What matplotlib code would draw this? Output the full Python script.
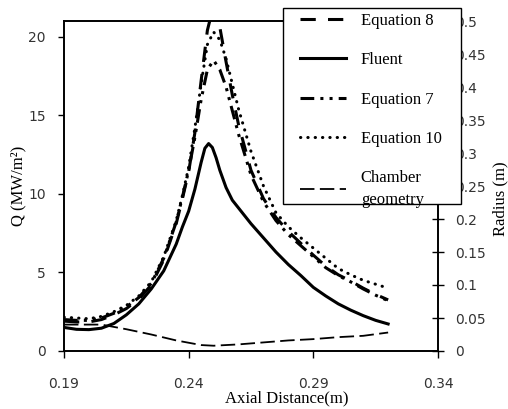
import matplotlib
matplotlib.use("Agg")
import matplotlib.pyplot as plt
from matplotlib.patches import Rectangle

# ---------------- data ----------------
x_eq = [0.19, 0.195, 0.20, 0.205, 0.21, 0.215, 0.22, 0.225, 0.23, 0.235, 0.2375,
        0.24, 0.2425, 0.245, 0.2475, 0.25, 0.2525, 0.255, 0.2575, 0.26, 0.265,
        0.27, 0.275, 0.28, 0.285, 0.29, 0.295, 0.30, 0.305, 0.31, 0.315, 0.32]

eq8 = [1.9, 1.85, 1.85, 2.0, 2.3, 2.7, 3.3, 4.2, 5.8, 8.1, 9.7,
       11.4, 13.9, 17.2, 20.4, 22.0, 20.6, 18.4, 16.3, 14.4, 11.5,
       9.7, 8.5, 7.6, 6.85, 6.1, 5.4, 4.85, 4.45, 4.0, 3.6, 3.25]

eq7 = [2.0, 1.95, 1.95, 2.1, 2.4, 2.8, 3.4, 4.3, 5.9, 8.2, 9.8,
       11.5, 13.6, 16.0, 17.9, 18.5, 17.9, 16.8, 15.3, 13.8, 11.2,
       9.5, 8.3, 7.4, 6.7, 6.0, 5.3, 4.8, 4.4, 3.95, 3.55, 3.2]

eq10 = [2.15, 2.1, 2.05, 2.2, 2.5, 2.9, 3.5, 4.4, 6.0, 8.3, 9.9,
        11.7, 14.2, 17.0, 19.5, 20.3, 19.8, 18.6, 17.0, 15.4, 12.7,
        10.5, 8.8, 7.9, 7.2, 6.55, 5.9, 5.25, 4.85, 4.5, 4.25, 4.0]

x_fl = [0.19, 0.195, 0.20, 0.205, 0.21, 0.215, 0.22, 0.225, 0.23, 0.235, 0.2375,
        0.24, 0.2425, 0.245, 0.2465, 0.248, 0.2495, 0.251, 0.2525, 0.255, 0.2575,
        0.26, 0.265, 0.27, 0.275, 0.28, 0.285, 0.29, 0.295, 0.30, 0.305, 0.31,
        0.315, 0.32]
fluent = [1.5, 1.38, 1.36, 1.45, 1.75, 2.3, 3.0, 3.95, 5.1, 6.8, 7.9,
          8.9, 10.3, 12.0, 12.9, 13.2, 12.95, 12.3, 11.5, 10.4, 9.6,
          9.1, 8.1, 7.2, 6.3, 5.5, 4.8, 4.05, 3.5, 3.0, 2.6, 2.25,
          1.95, 1.72]

x_ch = [0.19, 0.205, 0.215, 0.225, 0.235, 0.245, 0.25, 0.26, 0.27, 0.28,
        0.29, 0.30, 0.31, 0.32]
chamber = [0.040, 0.040, 0.033, 0.025, 0.016, 0.009, 0.008, 0.010, 0.013, 0.016,
           0.018, 0.021, 0.023, 0.028]

x_ticks = [0.19, 0.24, 0.29, 0.34]
q_ticks = [0, 5, 10, 15, 20]
r_ticks = [0, 0.05, 0.1, 0.15, 0.2, 0.25, 0.3, 0.35, 0.4, 0.45, 0.5]
r_ticklabels = ["0", "0.05", "0.1", "0.15", "0.2", "0.25", "0.3", "0.35",
                "0.4", "0.45", "0.5"]

labels = ["Equation 8", "Fluent", "Equation 7", "Equation 10", "Chamber\ngeometry"]

# ---------------- figure ----------------
W, H = 508, 409
fig = plt.figure(figsize=(W / 100, H / 100), dpi=100)
ax = fig.add_axes([64 / W, 1 - 351 / H, (438 - 64) / W, (351 - 21) / H])
ax2 = ax.twinx()

lw = 2.2
l8, = ax.plot(x_eq, eq8, color="black", lw=lw, linestyle=(0, (5, 4)))
lf, = ax.plot(x_fl, fluent, color="black", lw=lw, linestyle="-")
l7, = ax.plot(x_eq, eq7, color="black", lw=lw,
              linestyle=(0, (4.5, 2, 1, 2, 1, 2)))
l10, = ax.plot(x_eq, eq10, color="black", lw=lw, linestyle=(0, (0.1, 2.3)),
               dash_capstyle="round")
lc, = ax2.plot(x_ch, chamber, color="black", lw=1.3, linestyle=(0, (8, 3)))

ax.set_xlim(0.19, 0.34)
ax.set_ylim(0, 21)
ax2.set_ylim(0, 0.5)
ax.set_xticks(x_ticks)
ax.set_xticklabels(["0.19", "0.24", "0.29", "0.34"])
ax.set_yticks(q_ticks)
ax2.set_yticks(r_ticks)
ax2.set_yticklabels(r_ticklabels)

tick_col = "#333333"
ax.tick_params(axis="x", direction="out", length=5, width=1, pad=14,
               labelsize=10, labelcolor=tick_col)
ax.tick_params(axis="y", direction="out", length=4, width=1, pad=9,
               labelsize=10, labelcolor=tick_col)
ax2.tick_params(axis="y", direction="inout", length=8, width=1, pad=8,
                labelsize=10, labelcolor=tick_col)
for a in (ax, ax2):
    for s in a.spines.values():
        s.set_linewidth(1.2)
        s.set_color("black")

serif = ["Liberation Serif", "DejaVu Serif"]
fig.text(18 / W, 1 - 186 / H, "Q (MW/m²)", rotation=90, ha="center", va="center",
         family=serif, fontsize=12)
fig.text(287 / W, 1 - 398 / H, "Axial Distance(m)", ha="center", va="center",
         family=serif, fontsize=12)
fig.text(500 / W, 1 - 199 / H, "Radius (m)", rotation=90, ha="center", va="center",
         family=serif, fontsize=12)

# legend box (drawn over the axes and the right tick labels)
box = Rectangle((283 / W, 1 - 204 / H), (461 - 283) / W, (204 - 8) / H,
                transform=fig.transFigure, facecolor="white", edgecolor="black",
                linewidth=1.0, zorder=4)
fig.patches.append(box)

leg = fig.legend([l8, lf, l7, l10, lc], labels, loc="upper left",
                 bbox_to_anchor=(300 / W, 1 - 13 / H), borderaxespad=0,
                 prop={"family": serif, "size": 12}, frameon=False,
                 handlelength=2.75, handletextpad=0.9, labelspacing=1.4,
                 borderpad=0)
leg.get_texts()[4].set_linespacing(1.45)
leg.set_zorder(5)

fig.savefig("out.png", dpi=100)
